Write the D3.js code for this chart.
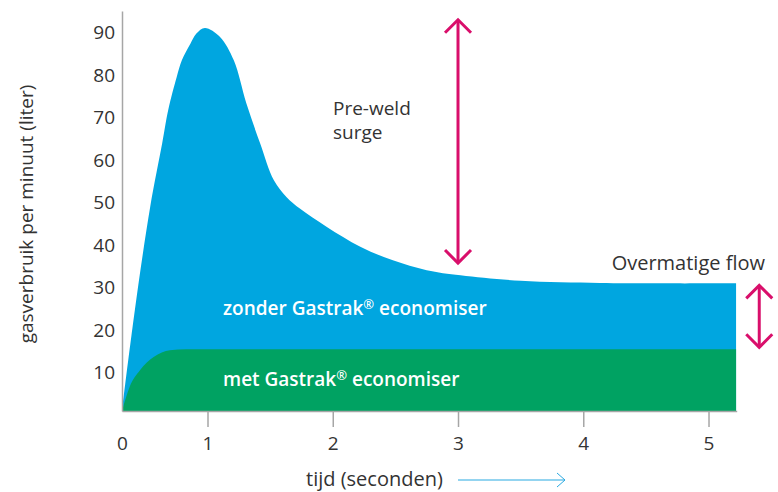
<!DOCTYPE html>
<meta charset='utf-8'>
<style>
body { margin: 0; background: #fff; }
text {
  font-family: 'Open Sans', sans-serif;
  fill: #333;
}
.axis path, .axis line { stroke: #a6a6a6; stroke-width: 1.5px; }
.axis text { font-size: 19px; fill: #333; font-family: 'Open Sans', sans-serif; }
.arrow { fill: none; stroke: #d90f6b; stroke-width: 3px; }
</style>
<svg id='chart' width='778' height='492'></svg>
<script src="https://d3js.org/d3.v7.min.js"></script>
<script>
// seconds and litres per minute
const zonderTijd   = [0, 0.15, 0.33, 0.47, 0.54, 0.64, 0.70, 0.80, 0.87, 0.97, 1.10, 1.21, 1.31, 1.42, 1.53, 1.63, 1.74, 1.95, 2.22, 2.48, 2.75, 3.02, 3.50, 4.13, 4.55, 5.22];
const zonderWaarde = [0, 23.7, 48, 62.9, 70.7, 78.5, 82.4, 86.3, 88.7, 90.0, 87.9, 82.4, 72.3, 62.9, 54.2, 50.3, 47.5, 43.3, 38.6, 35.4, 33.1, 31.9, 30.6, 30.1, 30, 30];
const metTijd   = [0, 0.09, 0.21, 0.37, 0.56, 0.75, 5.22];
const metWaarde = [0, 5.7, 9.6, 12.7, 14.3, 14.5, 14.5];

const xTicks = [0, 1, 2, 3, 4, 5];
const yTicks = [10, 20, 30, 40, 50, 60, 70, 80, 90];

const svg = d3.select('#chart');

// the first second is drawn narrower than the others
const x = d3.scaleLinear().domain([0, 1, 5.225]).range([122, 207.5, 736.7]);
const y = d3.scaleLinear().domain([0, 94]).range([411, 11]);

const zonder = zonderTijd.map((t, i) => [t, zonderWaarde[i]]);
const met = metTijd.map((t, i) => [t, metWaarde[i]]);

const area = d3.area()
  .x(d => x(d[0]))
  .y0(y(0))
  .y1(d => y(d[1]))
  .curve(d3.curveCatmullRom.alpha(0.5));

svg.append('path').datum(zonder).attr('fill', '#00a6e0').attr('d', area);
svg.append('path').datum(met).attr('fill', '#00a262').attr('d', area.curve(d3.curveMonotoneX));

// axes
const yAxis = svg.append('g')
  .attr('class', 'axis')
  .attr('transform', 'translate(' + x(0) + ',0)')
  .call(d3.axisLeft(y).tickValues(yTicks).tickSize(0).tickSizeOuter(0).tickPadding(7));
yAxis.selectAll('text').attr('dy', '0.55em');

const xAxis = svg.append('g')
  .attr('class', 'axis')
  .attr('transform', 'translate(0,' + y(0) + ')')
  .call(d3.axisBottom(x).tickValues(xTicks).tickSize(16).tickSizeOuter(0).tickFormat(d3.format('d')));
xAxis.selectAll('text').attr('y', 39).attr('dy', 0);
xAxis.selectAll('.tick line').filter(d => d === 0).remove();

// axis titles
svg.append('text')
  .attr('transform', 'translate(33,214) rotate(-90)')
  .attr('text-anchor', 'middle')
  .style('font-size', '19px')
  .text('gasverbruik per minuut (liter)');

svg.append('text')
  .attr('x', 306)
  .attr('y', 486)
  .style('font-size', '20px')
  .text('tijd (seconden)');

svg.append('line')
  .attr('x1', 458).attr('x2', 565)
  .attr('y1', 480).attr('y2', 480)
  .attr('stroke', '#29a9e1').attr('stroke-width', 1);
svg.append('path')
  .attr('d', 'M557,473 L565,480 L557,487')
  .attr('fill', 'none').attr('stroke', '#29a9e1').attr('stroke-width', 1);

// series labels
function serieLabel(yPos, before) {
  const t = svg.append('text')
    .attr('x', 223)
    .attr('y', yPos)
    .style('font-size', '19px')
    .style('font-weight', 600)
    .style('fill', '#fff');
  t.append('tspan').text(before + 'Gastrak');
  t.append('tspan').attr('dy', -6).style('font-size', '13px').text('®');
  t.append('tspan').attr('dy', 6).text(' economiser');
}
serieLabel(315, 'zonder ');
serieLabel(386, 'met ');

// double arrows
function dubbelPijl(t, top, bottom) {
  const px = x(t), y1 = y(top), y2 = y(bottom);
  const g = svg.append('g').attr('class', 'arrow');
  g.append('line').attr('x1', px).attr('x2', px).attr('y1', y1 + 2).attr('y2', y2 - 2);
  g.append('path').attr('d', `M${px - 13},${y1 + 15} L${px},${y1 + 2} L${px + 13},${y1 + 15}`);
  g.append('path').attr('d', `M${px - 13},${y2 - 15} L${px},${y2 - 2} L${px + 13},${y2 - 15}`);
}
dubbelPijl(3, 92.4, 34.3);
dubbelPijl(5.405, 30, 14.5);

svg.append('text').attr('x', 333).attr('y', 115).style('font-size', '19px').text('Pre-weld');
svg.append('text').attr('x', 333).attr('y', 139).style('font-size', '19px').text('surge');

svg.append('text')
  .attr('x', 765).attr('y', 270)
  .attr('text-anchor', 'end')
  .style('font-size', '20px')
  .text('Overmatige flow');
</script>
